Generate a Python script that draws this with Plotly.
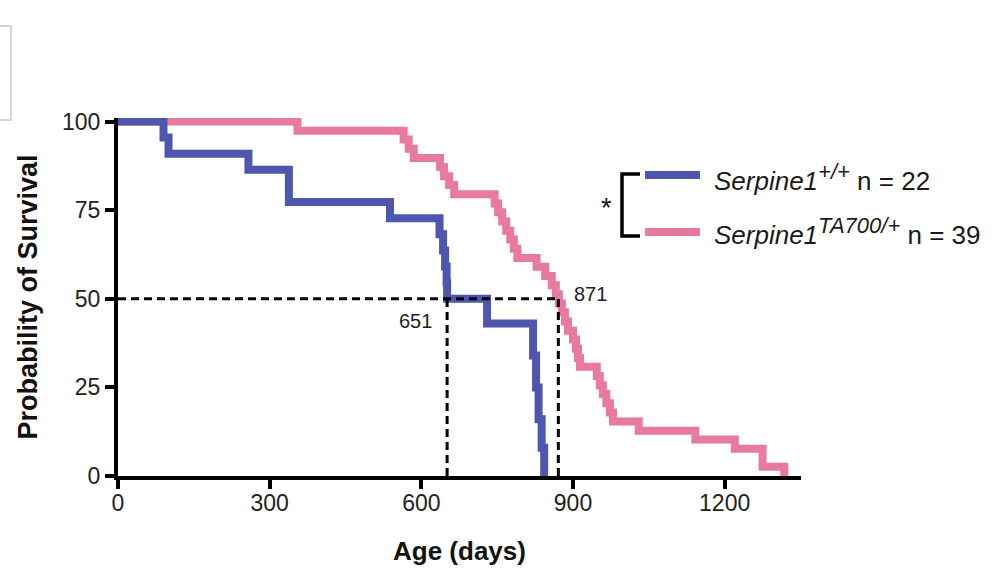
import plotly.graph_objects as go

# ---------------- data ----------------
wt_days = [0, 90, 100, 258, 338, 538, 636, 643, 647, 650, 651, 730, 821, 827, 832, 838, 843]
wt_surv = [100, 95.5, 90.9, 86.4, 77.3, 72.7, 68.2, 63.6, 59.1, 54.5, 50.0, 43.0, 34.0, 25.0, 16.0, 8.0, 0.0]

ta_days = [0, 355, 565, 575, 585, 637, 645, 655, 665, 745, 752, 760, 768, 776, 783, 790,
           828, 845, 858, 866, 872, 878, 884, 890, 900, 906, 910, 914, 947, 953, 959, 966,
           973, 979, 1030, 1142, 1220, 1275, 1318]
ta_surv = [100, 97.4, 94.9, 92.3, 89.7, 87.2, 84.6, 82.1, 79.5, 76.9, 74.4, 71.8, 69.2, 66.7, 64.1, 61.5,
           59.0, 56.4, 53.8, 51.3, 48.7, 46.2, 43.6, 41.0, 38.5, 35.9, 33.3, 30.8, 28.2, 25.6, 23.1, 20.5,
           17.9, 15.4, 12.8, 10.3, 7.7, 2.6, 0.0]

wt_median = 651
ta_median = 871
wt_n = 22
ta_n = 39

x_ticks = [0, 300, 600, 900, 1200]
y_ticks = [0, 25, 50, 75, 100]

BLUE = "#4f56b0"
PINK = "#e8799f"

# ---------------- layout geometry (pixels) ----------------
W, H = 1004, 574
L, R, T, B = 118, 203, 118, 98
PW, PH = W - L - R, H - T - B


def px(x):
    return (x - L) / PW


def py(y):
    return (H - B - y) / PH


fig = go.Figure()

fig.add_trace(go.Scatter(x=ta_days, y=ta_surv, mode="lines", line=dict(color=PINK, width=8, shape="hv"),
                         showlegend=False, hoverinfo="skip"))
fig.add_trace(go.Scatter(x=wt_days, y=wt_surv, mode="lines", line=dict(color=BLUE, width=8, shape="hv"),
                         showlegend=False, hoverinfo="skip"))

# median dashed guides
dash_style = dict(color="black", width=3, dash="8px,5px")
fig.add_trace(go.Scatter(x=[0, ta_median], y=[50, 50], mode="lines", line=dash_style,
                         showlegend=False, hoverinfo="skip"))
fig.add_trace(go.Scatter(x=[wt_median, wt_median], y=[0, 50], mode="lines", line=dash_style,
                         showlegend=False, hoverinfo="skip"))
fig.add_trace(go.Scatter(x=[ta_median, ta_median], y=[0, 50], mode="lines", line=dash_style,
                         showlegend=False, hoverinfo="skip"))

font_main = "Liberation Sans, Arial, Helvetica, sans-serif"
SUP = '<sup><span style="font-size:22px"><i>%s</i></span></sup>'

annotations = [
    dict(x=wt_median, y=50, xref="x", yref="y", text=str(wt_median), showarrow=False,
         xanchor="right", yanchor="middle", xshift=-13, yshift=-22,
         font=dict(size=20, color="#222", family=font_main)),
    dict(x=ta_median, y=50, xref="x", yref="y", text=str(ta_median), showarrow=False,
         xanchor="left", yanchor="middle", xshift=14, yshift=5,
         font=dict(size=20, color="#222", family=font_main)),
    # legend texts
    dict(x=px(712), y=py(177), xref="paper", yref="paper", showarrow=False, xanchor="left", yanchor="middle",
         text="<i>Serpine1</i>" + SUP % "+/+" + " n = %d" % wt_n,
         font=dict(size=26, color="#1a1a1a", family=font_main)),
    dict(x=px(712), y=py(231), xref="paper", yref="paper", showarrow=False, xanchor="left", yanchor="middle",
         text="<i>Serpine1</i>" + SUP % "TA700/+" + " n = %d" % ta_n,
         font=dict(size=26, color="#1a1a1a", family=font_main)),
    dict(x=px(606), y=py(208), xref="paper", yref="paper", showarrow=False, xanchor="center", yanchor="middle",
         text="*", font=dict(size=27, color="#111", family=font_main)),
]

shapes = [
    # legend swatches
    dict(type="line", xref="paper", yref="paper", x0=px(645), x1=px(700), y0=py(175), y1=py(175),
         line=dict(color=BLUE, width=8)),
    dict(type="line", xref="paper", yref="paper", x0=px(645), x1=px(700), y0=py(232), y1=py(232),
         line=dict(color=PINK, width=8)),
    # significance bracket
    dict(type="path", xref="paper", yref="paper",
         path="M %f %f L %f %f L %f %f L %f %f" % (px(640), py(174), px(622), py(174),
                                                   px(622), py(236), px(640), py(236)),
         line=dict(color="black", width=3.5)),
    # faint panel-border artifact at top-left
    dict(type="rect", xref="paper", yref="paper", x0=px(-6), x1=px(11), y0=py(120), y1=py(26),
         line=dict(color="#c8c8c8", width=1.5), fillcolor="rgba(0,0,0,0)"),
]

fig.update_layout(
    width=W, height=H,
    margin=dict(l=L, r=R, t=T, b=B, pad=0),
    paper_bgcolor="white", plot_bgcolor="white",
    font=dict(family=font_main, color="#222"),
    annotations=annotations,
    shapes=shapes,
)

fig.update_xaxes(range=[0, 1351], tickvals=x_ticks, ticktext=[str(v) for v in x_ticks],
                 showgrid=False, zeroline=False, showline=True, linecolor="black", linewidth=4,
                 ticks="outside", ticklen=9, tickwidth=3.5, tickcolor="black",
                 tickfont=dict(size=23, color="#222"), ticklabelstandoff=-6,
                 title=dict(text="<b>Age (days)</b>", font=dict(size=26, color="#111"), standoff=28))
fig.update_yaxes(range=[0, 101], tickvals=y_ticks, ticktext=[str(v) for v in y_ticks],
                 showgrid=False, zeroline=False, showline=True, linecolor="black", linewidth=4,
                 ticks="outside", ticklen=9, tickwidth=3.5, tickcolor="black",
                 tickfont=dict(size=23, color="#222"),
                 title=dict(text="<b>Probability of Survival</b>", font=dict(size=27, color="#111"), standoff=18))

fig.write_html("out.html")
